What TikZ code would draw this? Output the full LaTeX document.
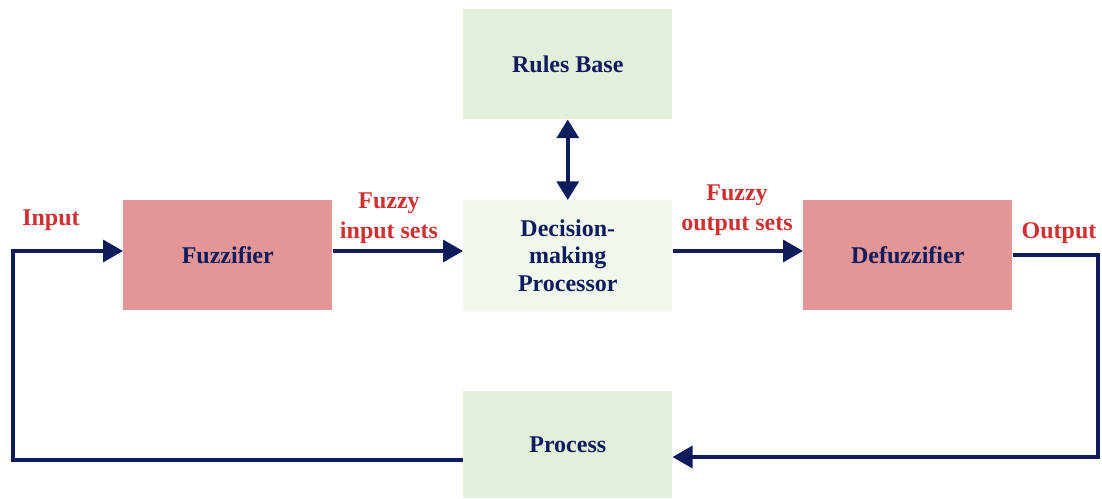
\documentclass[tikz,border=0pt]{standalone}
\usepackage{fontspec}
\setmainfont{Liberation Serif}
\usetikzlibrary{arrows.meta,calc}
\definecolor{navy}{HTML}{0E1B5C}
\definecolor{redlbl}{HTML}{D0302F}
\definecolor{pinkbox}{HTML}{E49696}
\definecolor{greenbox}{HTML}{E2EFDA}
\definecolor{palegreen}{HTML}{F0F7EC}
\tikzset{
  blk/.style={rectangle, draw=none, anchor=north west, inner sep=0pt,
    text=navy, font=\fontsize{18}{20.5}\selectfont\bfseries, align=center},
  lbl/.style={text=redlbl, font=\fontsize{18}{22.5}\selectfont\bfseries, align=center, inner sep=0pt},
  flow/.style={draw=navy, line width=2.6pt, line join=miter,
    -{Triangle[length=15pt,width=16.5pt]}},
  link/.style={draw=navy, line width=2.6pt, line join=miter},
  both/.style={draw=navy, line width=2.6pt,
    {Triangle[length=14pt,width=16.5pt]}-{Triangle[length=14pt,width=16.5pt]}}
}
\begin{document}
\begin{tikzpicture}[x=0.75pt,y=-0.75pt]
\useasboundingbox (0,0) rectangle (1102,499);

% blocks
\node[blk, fill=greenbox, minimum width=209*0.75pt, minimum height=110*0.75pt] (rules) at (463,9) {Rules Base};
\node[blk, fill=palegreen, minimum width=209*0.75pt, minimum height=111*0.75pt] (dec) at (463,200) {Decision-\\making\\Processor};
\node[blk, fill=pinkbox, minimum width=209*0.75pt, minimum height=110*0.75pt] (fuzz) at (123,200) {Fuzzifier};
\node[blk, fill=pinkbox, minimum width=209*0.75pt, minimum height=110*0.75pt] (defuzz) at (803,200) {Defuzzifier};
\node[blk, fill=greenbox, minimum width=209*0.75pt, minimum height=107*0.75pt] (proc) at (463,391) {Process};

% labels
\node[lbl] (lin) at (51,220) {Input};
\node[lbl] (lfin) at (389,218) {Fuzzy\\input sets};
\node[lbl] (lfout) at (737,210) {Fuzzy\\output sets};
\node[lbl] (lout) at (1059,233) {Output};

% corner points of the feedback loop
\coordinate (bl) at (13,460);
\coordinate (tl) at (13,251);
\coordinate (tr) at (1098,255);
\coordinate (br) at (1098,457);

% connectors
\draw[flow] (proc.west |- bl) -- (bl) -- (tl) -- (fuzz.west |- tl);
\draw[flow] (fuzz.east |- tl) -- (dec.west |- tl);
\draw[flow] (dec.east |- tl) -- (defuzz.west |- tl);
\draw[flow] (defuzz.east |- tr) -- (tr) -- (br) -- (proc.east |- br);
\draw[both] (rules.south) -- (dec.north);
\end{tikzpicture}
\end{document}
